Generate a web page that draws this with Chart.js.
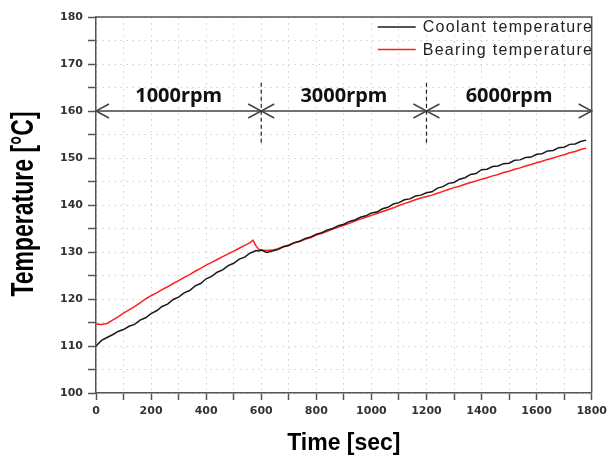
<!DOCTYPE html>
<html>
<head>
<meta charset="utf-8">
<script src="https://cdn.jsdelivr.net/npm/chart.js@4/dist/chart.umd.min.js"></script>
<style>
  body { margin: 0; background: #fff; }
  #wrap { width: 612px; height: 459px; }
</style>
</head>
<body>
<div id="wrap"><canvas id="myChart" width="612" height="459"></canvas></div>
<script>
// time axis [sec]
const timeSec = [0,20,40,60,80,100,120,140,160,180,200,220,240,260,280,300,320,340,360,380,400,420,440,460,480,500,520,540,560,570,580,590,600,620,640,660,680,700,720,740,760,780,800,820,840,860,880,900,920,940,960,980,1000,1020,1040,1060,1080,1100,1120,1140,1160,1180,1200,1220,1240,1260,1280,1300,1320,1340,1360,1380,1400,1420,1440,1460,1480,1500,1520,1540,1560,1580,1600,1620,1640,1660,1680,1700,1720,1740,1760,1780]

// coolant temperature [°C]
const coolantTemp = [110.0,111.2,111.8,112.4,113.1,113.5,114.2,114.6,115.5,116.0,116.9,117.5,118.4,118.9,119.9,120.4,121.3,121.8,122.8,123.3,124.3,124.8,125.7,126.2,127.1,127.6,128.5,128.9,129.8,130.0,130.3,130.2,130.4,129.9,130.2,130.5,131.1,131.4,132.0,132.3,132.9,133.2,133.8,134.1,134.7,135.0,135.6,135.9,136.5,136.8,137.4,137.7,138.3,138.5,139.2,139.5,140.2,140.5,141.1,141.3,141.9,142.1,142.6,142.8,143.6,143.9,144.6,144.8,145.5,145.8,146.5,146.7,147.5,147.6,148.2,148.3,148.8,148.9,149.5,149.6,150.1,150.2,150.8,150.9,151.5,151.6,152.2,152.3,152.9,153.0,153.5,153.8]

// bearing temperature [°C]
const bearingTemp = [114.7,114.6,114.8,115.5,116.2,117.0,117.7,118.4,119.2,120.0,120.7,121.3,122.0,122.6,123.3,123.9,124.6,125.2,125.9,126.5,127.2,127.8,128.4,129.0,129.6,130.2,130.8,131.4,132.0,132.5,131.4,130.6,130.4,130.3,130.4,130.7,131.1,131.5,131.9,132.3,132.7,133.1,133.6,134.0,134.4,134.9,135.3,135.7,136.1,136.6,137.0,137.4,137.8,138.2,138.6,139.0,139.4,139.9,140.3,140.7,141.1,141.5,141.8,142.1,142.5,142.9,143.3,143.7,144.0,144.4,144.8,145.1,145.5,145.8,146.2,146.5,146.9,147.2,147.6,147.9,148.3,148.6,149.0,149.3,149.7,150.0,150.4,150.7,151.1,151.4,151.8,152.1]

const seriesNames = ['Coolant temperature', 'Bearing temperature']
const seriesColors = ['#1a1a1a', '#ff1f1f']

// speed stages
const stageBounds = [0, 600, 1200, 1800]
const stageLabels = ['1000rpm', '3000rpm', '6000rpm']
const arrowLevel = 160
const stageTextLevel = 162
const dividerTop = 166
const dividerBottom = 153

const ticksX = { min: 0, max: 1800, step: 100, labelEvery: 200 }
const ticksY = { min: 100, max: 180, step: 5, labelEvery: 10 }

const toPoints = (ys) => timeSec.map((t, i) => ({ x: t, y: ys[i] }))

// frame, arrows, stage labels, legend and axis titles
const decorations = {
  id: 'decorations',
  afterDatasetsDraw(chart) {
    const ctx = chart.ctx
    const xs = chart.scales.x, ys = chart.scales.y
    const a = chart.chartArea

    ctx.save()
    // top & right frame
    ctx.strokeStyle = '#555'
    ctx.lineWidth = 1.5
    ctx.beginPath()
    ctx.moveTo(a.left, a.top); ctx.lineTo(a.right, a.top); ctx.lineTo(a.right, a.bottom)
    ctx.stroke()

    // arrow line
    const yA = ys.getPixelForValue(arrowLevel)
    ctx.strokeStyle = '#444'
    ctx.lineWidth = 1.5
    ctx.beginPath()
    ctx.moveTo(xs.getPixelForValue(stageBounds[0]), yA)
    ctx.lineTo(xs.getPixelForValue(stageBounds[stageBounds.length - 1]), yA)
    ctx.stroke()
    const head = (x, dir) => {
      ctx.beginPath()
      ctx.moveTo(x - dir * 13, yA - 7)
      ctx.lineTo(x, yA)
      ctx.lineTo(x - dir * 13, yA + 7)
      ctx.stroke()
    }
    for (let i = 0; i < stageLabels.length; i++) {
      head(xs.getPixelForValue(stageBounds[i]), -1)
      head(xs.getPixelForValue(stageBounds[i + 1]), 1)
    }

    // dashed dividers
    ctx.strokeStyle = '#222'
    ctx.lineWidth = 1.2
    ctx.setLineDash([4, 3])
    for (let i = 1; i < stageBounds.length - 1; i++) {
      const x = xs.getPixelForValue(stageBounds[i])
      ctx.beginPath()
      ctx.moveTo(x, ys.getPixelForValue(dividerTop))
      ctx.lineTo(x, ys.getPixelForValue(dividerBottom))
      ctx.stroke()
    }
    ctx.setLineDash([])

    // stage labels
    ctx.fillStyle = '#111'
    ctx.font = 'bold 20px "Noto Sans"'
    ctx.textAlign = 'center'
    ctx.textBaseline = 'alphabetic'
    for (let i = 0; i < stageLabels.length; i++) {
      const mid = (stageBounds[i] + stageBounds[i + 1]) / 2
      ctx.fillText(stageLabels[i], xs.getPixelForValue(mid), ys.getPixelForValue(stageTextLevel))
    }

    // legend
    ctx.font = '16px "Liberation Sans"'
    ctx.letterSpacing = '1.3px'
    ctx.textAlign = 'left'
    ctx.textBaseline = 'middle'
    for (let i = 0; i < seriesNames.length; i++) {
      const y = a.top + 10 + i * 22.6
      ctx.strokeStyle = seriesColors[i]
      ctx.lineWidth = 1.5
      ctx.beginPath()
      ctx.moveTo(a.right - 214, y); ctx.lineTo(a.right - 176, y)
      ctx.stroke()
      ctx.fillStyle = '#222'
      ctx.fillText(seriesNames[i], a.right - 169, y + 1)
    }
    ctx.letterSpacing = '0px'

    // axis titles
    ctx.fillStyle = '#000'
    ctx.font = 'bold 23px "Liberation Sans"'
    ctx.textAlign = 'center'
    ctx.textBaseline = 'alphabetic'
    ctx.fillText('Time [sec]', (a.left + a.right) / 2, 450)

    ctx.translate(33, 204)
    ctx.scale(1.35, 1)
    ctx.rotate(-Math.PI / 2)
    ctx.fillText('Temperature [°C]', 0, 0)
    ctx.restore()
  }
}

new Chart(document.getElementById('myChart'), {
  type: 'line',
  data: {
    datasets: [
      { label: seriesNames[0], data: toPoints(coolantTemp), borderColor: seriesColors[0], borderWidth: 1.5, pointRadius: 0, tension: 0 },
      { label: seriesNames[1], data: toPoints(bearingTemp), borderColor: seriesColors[1], borderWidth: 1.5, pointRadius: 0, tension: 0 }
    ]
  },
  options: {
    responsive: false,
    animation: false,
    layout: { padding: { top: 17, right: 16, left: 0, bottom: 0 } },
    plugins: { legend: { display: false }, tooltip: { enabled: false } },
    scales: {
      x: {
        type: 'linear',
        min: ticksX.min, max: ticksX.max,
        afterFit: (s) => { s.height = 66 },
        grid: { color: '#d2d2d2', lineWidth: 1, tickColor: '#555', tickWidth: 1.5, tickLength: 7, tickBorderDash: [] },
        border: { color: '#555', width: 1.5, dash: [1.5, 4.5] },
        ticks: {
          stepSize: ticksX.step, autoSkip: false, maxRotation: 0, padding: 5,
          color: '#333', font: { family: 'DejaVu Sans', weight: 'bold', size: 11 },
          callback: (v) => v % ticksX.labelEvery === 0 ? v : ''
        }
      },
      y: {
        min: ticksY.min, max: ticksY.max,
        afterFit: (s) => { s.width = 96 },
        grid: { color: '#d2d2d2', lineWidth: 1, tickColor: '#555', tickWidth: 1.5, tickLength: 8, tickBorderDash: [] },
        border: { color: '#555', width: 1.5, dash: [1.5, 4.5] },
        ticks: {
          stepSize: ticksY.step, autoSkip: false, padding: 5,
          color: '#333', font: { family: 'DejaVu Sans', weight: 'bold', size: 11 },
          callback: (v) => v % ticksY.labelEvery === 0 ? v : ''
        }
      }
    }
  },
  plugins: [decorations]
})
</script>
</body>
</html>
